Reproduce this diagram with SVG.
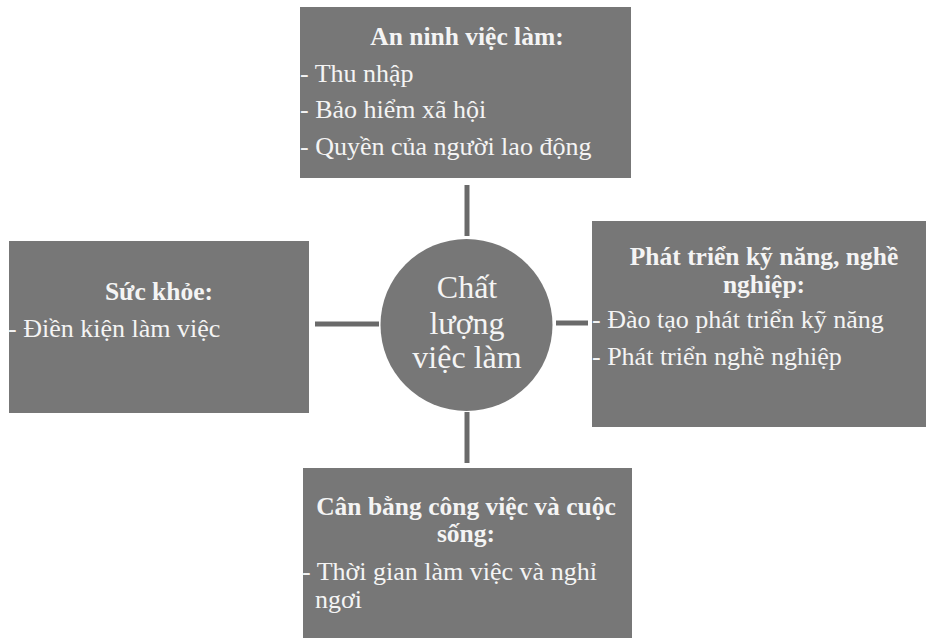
<svg xmlns="http://www.w3.org/2000/svg" width="926" height="638" viewBox="0 0 926 638">
<style>
.box{fill:#777777}
.t{font-family:"Liberation Serif","Times New Roman",serif;fill:#f4f4f4;font-size:26px}
.b{font-weight:bold;text-anchor:middle;font-size:25.5px}
.c{text-anchor:middle;font-size:32px}
.ln{stroke:#6a6a6a;stroke-width:5;fill:none}
</style>
<rect width="926" height="638" fill="#ffffff"/>
<g id="connectors">
<line class="ln" x1="467" y1="185" x2="467" y2="236"/>
<line class="ln" x1="467" y1="412" x2="467" y2="463"/>
<line class="ln" x1="315" y1="324" x2="379" y2="324"/>
<line class="ln" x1="556" y1="323" x2="588" y2="323"/>
</g>
<g id="center">
<circle cx="466.5" cy="325" r="86" fill="#777777"/>
<text class="t c" x="467" y="298">Chất</text>
<text class="t c" x="467" y="334">lượng</text>
<text class="t c" x="467" y="368">việc làm</text>
</g>
<g id="top">
<rect class="box" x="300" y="7" width="331" height="171"/>
<text class="t b" x="467" y="45">An ninh việc làm:</text>
<text class="t" x="300" y="82">- Thu nhập</text>
<text class="t" x="300" y="118">- Bảo hiểm xã hội</text>
<text class="t" x="300" y="155">- Quyền của người lao động</text>
</g>
<g id="left">
<rect class="box" x="9" y="241" width="300" height="172"/>
<text class="t b" x="159" y="300">Sức khỏe:</text>
<text class="t" x="8" y="337">- Điền kiện làm việc</text>
</g>
<g id="right">
<rect class="box" x="592" y="221" width="334" height="206"/>
<text class="t b" x="764" y="265">Phát triển kỹ năng, nghề</text>
<text class="t b" x="764" y="293">nghiệp:</text>
<text class="t" x="592" y="328">- Đào tạo phát triển kỹ năng</text>
<text class="t" x="592" y="365">- Phát triển nghề nghiệp</text>
</g>
<g id="bottom">
<rect class="box" x="303" y="468" width="329" height="170"/>
<text class="t b" x="466" y="515">Cân bằng công việc và cuộc</text>
<text class="t b" x="466" y="542">sống:</text>
<text class="t" x="302" y="580">- Thời gian làm việc và nghỉ</text>
<text class="t" x="315" y="608">ngơi</text>
</g>
</svg>
